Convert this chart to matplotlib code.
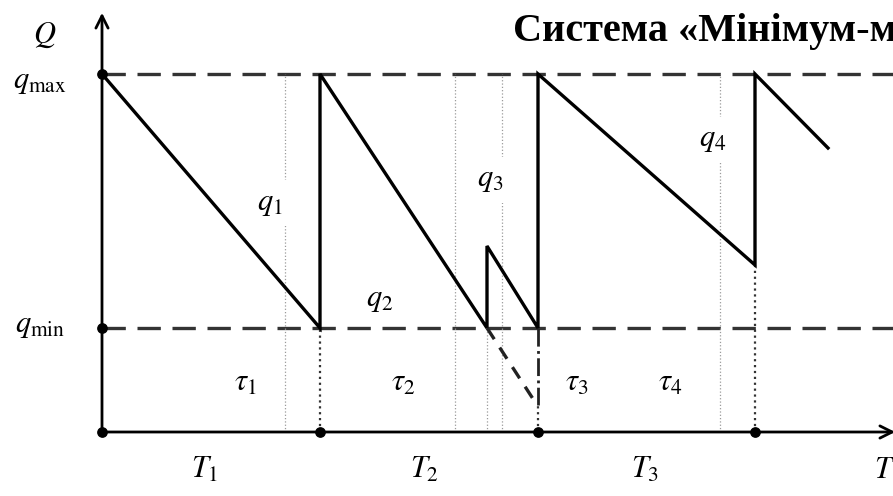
import matplotlib.pyplot as plt

plt.rcParams['mathtext.fontset'] = 'stix'
plt.rcParams['font.family'] = ['Liberation Serif', 'DejaVu Serif']

# time / stock levels (t = 0 at the Q axis, Q = 0 at the T axis)
q_min, q_max = 104, 358
period_ends = [0, 218, 436, 653]
saw_t = [0, 218, 218, 385, 385, 436, 436, 653, 653, 726]
saw_q = [358, 104, 358, 104, 186, 104, 358, 167, 358, 284]
shortage_t = [385, 435]
shortage_q = [104, 27]
lead_marks = [183, 353, 400, 618]   # faint dotted verticals, full height
order_mark = 385                    # faint dotted, below q_min

q_labels = [("$q_1$", 168, 229), ("$q_2$", 278, 132), ("$q_3$", 388, 252), ("$q_4$", 611, 292)]
tau_labels = [("$\\tau_1$", 143, 49), ("$\\tau_2$", 301, 49), ("$\\tau_3$", 475, 49), ("$\\tau_4$", 568, 49)]
T_labels = [("$T_1$", 103, -38), ("$T_2$", 323, -38), ("$T_3$", 543, -38), ("$T$", 783, -38)]

fig = plt.figure(figsize=(8.93, 4.96), dpi=100)
ax = fig.add_axes([0, 0, 1, 1])
ax.set_xlim(-102, 791)
ax.set_ylim(-64, 432)
ax.axis('off')

# axes with arrows
ax.annotate("", xy=(0, 422), xytext=(0, 0), annotation_clip=False,
            arrowprops=dict(arrowstyle='->', lw=2, color='black', mutation_scale=22))
ax.annotate("", xy=(796, 0), xytext=(0, 0), annotation_clip=False,
            arrowprops=dict(arrowstyle='->', lw=2, color='black', mutation_scale=22))

# q_min / q_max levels
for lvl in (q_min, q_max):
    ax.plot([0, 791], [lvl, lvl], color='#333333', lw=2.4, ls=(0, (7, 3.5)))

# faint helper verticals
for t in lead_marks:
    ax.plot([t, t], [0, q_max], color='#9a9a9a', lw=0.9, ls=':')
ax.plot([order_mark, order_mark], [0, q_min], color='#9a9a9a', lw=0.9, ls=':')

# darker dotted drops from the curve to the axis
ax.plot([218, 218], [0, q_min], color='#333333', lw=1.6, ls=':')
ax.plot([653, 653], [0, 167], color='#333333', lw=1.6, ls=':')
ax.plot([436, 436], [shortage_q[1], q_min], color='#222222', lw=2, ls='-.')
ax.plot([436, 436], [0, shortage_q[1]], color='#333333', lw=1.6, ls=':')

# stock curve
ax.plot(saw_t, saw_q, color='black', lw=2.4, solid_joinstyle='miter')
ax.plot(shortage_t, shortage_q, color='#222222', lw=2.4, ls=(0, (4, 3)))

# points on the axes
ax.scatter([0, 0], [q_min, q_max], s=45, color='black', zorder=5)
ax.scatter(period_ends, [0] * len(period_ends), s=45, color='black', zorder=5)

fs = 22
ax.text(-57, 397, "$Q$", fontsize=fs, ha='center', va='center')
ax.text(-62, 350, "$q_{\\rm max}$", fontsize=fs, ha='center', va='center')
ax.text(-62, 107, "$q_{\\rm min}$", fontsize=fs, ha='center', va='center')
for txt, t, q in q_labels:
    ax.text(t, q, txt, fontsize=fs, ha='center', va='center',
            bbox=dict(facecolor='white', edgecolor='none', pad=6))
for txt, t, q in tau_labels + T_labels:
    ax.text(t, q, txt, fontsize=fs, ha='center', va='center')

ax.text(411, 401, "Система «Мінімум-максимум»", fontsize=29, fontweight='bold',
        ha='left', va='center')

fig.savefig("out.png", dpi=100)
